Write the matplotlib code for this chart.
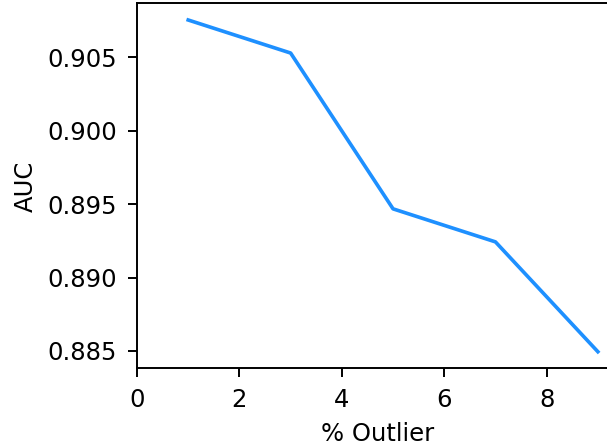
# AUC vs outlier percentage

import numpy as np
from matplotlib import pyplot as plt

outlier_pct = [1, 3, 5, 7, 9]
auc = [0.90754, 0.90529, 0.89468, 0.89243, 0.88495]

fig = plt.figure(figsize=(607 / 175, 443 / 175), dpi=175)
ax = fig.add_axes([0.2257, 0.1686, 0.793, 0.8237])
ax.plot(outlier_pct, auc, color='dodgerblue')
ax.set_xlim(left=0)
ax.tick_params(length=3.7, pad=4.5)
ax.set_xlabel("% Outlier")
ax.set_ylabel("AUC")
fig.savefig('out.png', dpi=175)
